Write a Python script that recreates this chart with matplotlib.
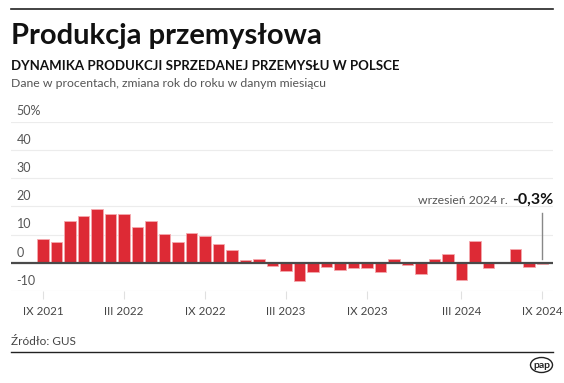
import matplotlib
matplotlib.use("Agg")
import matplotlib.pyplot as plt
from matplotlib.patches import Ellipse
from matplotlib.lines import Line2D

# dynamika produkcji sprzedanej przemyslu, % r/r (odczyt z wykresu)
values = [8.5, 7.5, 14.9, 16.5, 18.9, 17.3, 17.1, 12.7, 14.7, 10.2, 7.3, 10.6,
          9.5, 6.6, 4.4, 0.8, 1.5, -1.2, -2.9, -6.5, -3.3, -1.4, -2.7, -2.0,
          -2.0, -3.2, 1.4, -0.7, -4.0, 1.4, 3.2, -6.0, 7.6, -1.9, 0.1, 4.7,
          -1.6, -0.3]
tick_pos = [0, 6, 12, 18, 24, 31, 37]
tick_labels = ["IX 2021", "III 2022", "IX 2022", "III 2023", "IX 2023",
               "III 2024", "IX 2024"]
y_ticks = [-10, 0, 10, 20, 30, 40, 50]
y_labels = ["-10", "0", "10", "20", "30", "40", "50%"]

plt.rcParams["font.family"] = ["Lato", "DejaVu Sans"]

W, H = 564, 383
fig = plt.figure(figsize=(W / 100, H / 100), dpi=100)

def px(x, y):
    return x / W, 1 - y / H

ax = fig.add_axes([11 / W, (H - 291) / H, 542 / W, (291 - 121.5) / H])
x = list(range(len(values)))
ax.bar(x, values, width=0.88, color="#dd2a35", edgecolor="#f5a9ae", linewidth=0.6, zorder=3)
ax.set_xlim(-2.37, 37.78)
ax.set_ylim(-10, 50)
for s in ax.spines.values():
    s.set_visible(False)
for v in y_ticks:
    ax.axhline(v, color="#ececec", lw=0.8, zorder=1)
ax.axhline(0, color="#4a4a4a", lw=1.6, zorder=4)
ax.set_yticks([])
ax.set_xticks(tick_pos)
ax.set_xticklabels(tick_labels, fontsize=8.3, color="#444444")
ax.tick_params(axis="x", length=6, color="#e0e0e0", pad=5)
for v, lab in zip(y_ticks, y_labels):
    ax.annotate(lab, (0, v), xycoords=("axes fraction", "data"), xytext=(4, 3),
                textcoords="offset points", fontsize=9, color="#555555",
                ha="left", va="bottom")

# adnotacja
ax.plot([37, 37], [1.2, 17.5], color="#888888", lw=1.0, zorder=5)
fig.canvas.draw()
bold = fig.text(553 / W, 1 - 204 / H, "-0,3%", fontsize=11.5, fontweight="bold",
                color="#111111", ha="right", va="baseline")
bb = bold.get_window_extent(fig.canvas.get_renderer())
fig.text((bb.x0 - 4) / W, 1 - 204 / H, "wrzesień 2024 r.", fontsize=8.8, color="#555555",
         ha="right", va="baseline")

# naglowki
fig.add_artist(Line2D([11 / W, 553 / W], [1 - 9 / H, 1 - 9 / H], color="#222222", lw=1.2))
fig.text(11 / W, 1 - 44 / H, "Produkcja przemysłowa", fontsize=21, fontweight="bold",
         color="#111111", va="baseline")
fig.text(11 / W, 1 - 69.5 / H, "DYNAMIKA PRODUKCJI SPRZEDANEJ PRZEMYSŁU W POLSCE",
         fontsize=9.5, fontweight="bold", color="#111111", va="baseline")
fig.text(11 / W, 1 - 87 / H, "Dane w procentach, zmiana rok do roku w danym miesiącu",
         fontsize=8.8, color="#555555", va="baseline")

# stopka
fig.text(11 / W, 1 - 345 / H, "Źródło: GUS", fontsize=8.5, color="#444444", va="baseline")
fig.add_artist(Line2D([11 / W, 553 / W], [1 - 352 / H, 1 - 352 / H], color="#222222", lw=1.0))
fig.add_artist(Ellipse(px(541.5, 365), 22 / W, 15 / H, transform=fig.transFigure,
                       facecolor="white", edgecolor="#222222", lw=1.0))
fig.text(541.5 / W, 1 - 365 / H, "pap", fontsize=7.5, fontweight="bold", color="#222222",
         ha="center", va="center")

fig.savefig("out.png", dpi=100)
